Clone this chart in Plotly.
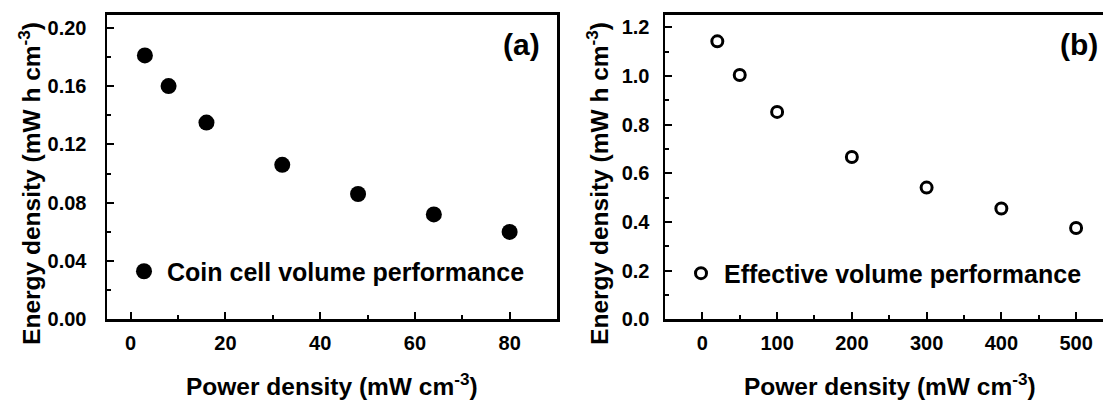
import plotly.graph_objects as go

# ---- data ----
xa = [3, 8, 16, 32, 48, 64, 80]
ya = [0.181, 0.160, 0.135, 0.106, 0.086, 0.072, 0.060]
xb = [20, 50, 100, 200, 300, 400, 500]
yb = [1.143, 1.005, 0.853, 0.668, 0.542, 0.456, 0.376]
name_a = "Coin cell volume performance"
name_b = "Effective volume performance"
xtitle = "Power density (mW cm<sup>-3</sup>)"
ytitle = "Energy density (mW h cm<sup>-3</sup>)"
panel_labels = ["(a)", "(b)"]

W, H = 1103, 408
FONT = "Liberation Sans, Arial, sans-serif"

def px(x):
    return x / W

def py(y):
    return 1 - y / H

fig = go.Figure()
fig.add_trace(go.Scatter(
    x=xa, y=ya, mode="markers", name=name_a,
    marker=dict(symbol="circle", size=16, color="black"),
    xaxis="x", yaxis="y", legend="legend"))
fig.add_trace(go.Scatter(
    x=xb, y=yb, mode="markers", name=name_b,
    marker=dict(symbol="circle-open", size=11, color="black",
                line=dict(width=3, color="black")),
    xaxis="x2", yaxis="y2", legend="legend2"))

tickfont = dict(family=FONT, size=20, color="black", weight="bold")
common = dict(showgrid=False, zeroline=False, showline=True, linecolor="black",
              linewidth=2.5, ticks="inside", ticklen=7, tickwidth=2,
              tickcolor="black", tickfont=tickfont)

fig.update_layout(
    width=W, height=H,
    margin=dict(l=0, r=0, t=0, b=0),
    paper_bgcolor="white", plot_bgcolor="white",
    showlegend=True,
    xaxis=dict(domain=[px(107), px(557)], range=[-5, 90], dtick=20, tick0=0,
               mirror=True, anchor="y", ticklabelstandoff=4,
               minor=dict(ticks="inside", ticklen=4, dtick=10, tickwidth=2, tickcolor="black"),
               **common),
    yaxis=dict(domain=[py(328.3), py(15)], range=[0, 0.209], dtick=0.04, tick0=0,
               tickformat=".2f", mirror=True, anchor="x", ticklabelstandoff=14,
               minor=dict(ticks="inside", ticklen=4, dtick=0.02, tickwidth=2, tickcolor="black"),
               **common),
    xaxis2=dict(domain=[px(665), 1], range=[-50, 536], dtick=100, tick0=0,
                mirror=True, anchor="y2", ticklabelstandoff=4,
                minor=dict(ticks="inside", ticklen=4, dtick=50, tickwidth=2, tickcolor="black"),
                **common),
    yaxis2=dict(domain=[py(328.3), py(15)], range=[0, 1.253], dtick=0.2, tick0=0,
                tickformat=".1f", mirror=False, anchor="x2", ticklabelstandoff=9,
                minor=dict(ticks="inside", ticklen=4, dtick=0.1, tickwidth=2, tickcolor="black"),
                **common),
    legend=dict(x=px(121), y=py(279), xanchor="left", yanchor="middle",
                bgcolor="rgba(0,0,0,0)", borderwidth=0, itemwidth=36,
                font=dict(family=FONT, size=25, color="black", weight="bold")),
    legend2=dict(x=px(678), y=py(281), xanchor="left", yanchor="middle",
                 bgcolor="rgba(0,0,0,0)", borderwidth=0, itemwidth=36,
                 font=dict(family=FONT, size=25, color="black", weight="bold")),
)

ann_font = dict(family=FONT, size=24.5, color="black", weight="bold")
annotations = [
    dict(text=xtitle, x=px(332), y=py(395), xref="paper", yref="paper",
         xanchor="center", yanchor="middle", showarrow=False, font=ann_font),
    dict(text=xtitle, x=px(890), y=py(395), xref="paper", yref="paper",
         xanchor="center", yanchor="middle", showarrow=False, font=ann_font),
    dict(text=ytitle, x=px(30), y=py(189), xref="paper", yref="paper", textangle=-90,
         xanchor="center", yanchor="middle", showarrow=False, font=ann_font),
    dict(text=ytitle, x=px(598), y=py(189), xref="paper", yref="paper", textangle=-90,
         xanchor="center", yanchor="middle", showarrow=False, font=ann_font),
    dict(text=panel_labels[0], x=px(542), y=py(46), xref="paper", yref="paper",
         xanchor="right", yanchor="middle", showarrow=False,
         font=dict(family=FONT, size=30, color="black", weight="bold")),
    dict(text=panel_labels[1], x=px(1100), y=py(46), xref="paper", yref="paper",
         xanchor="right", yanchor="middle", showarrow=False,
         font=dict(family=FONT, size=30, color="black", weight="bold")),
]
fig.update_layout(annotations=annotations)

fig.write_html("out.html", config={"staticPlot": True, "displayModeBar": False},
               post_script="document.body.style.margin='0';document.body.style.overflow='hidden';")
